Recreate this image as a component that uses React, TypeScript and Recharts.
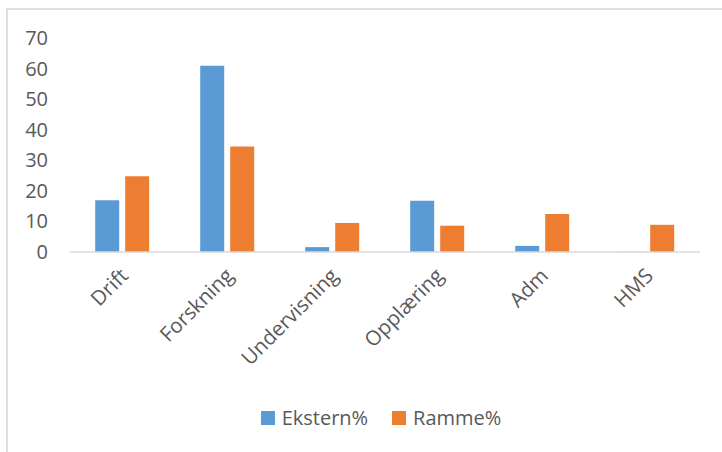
import React from 'react';
import { BarChart, Bar, XAxis, YAxis } from 'recharts';

const categories = ['Drift', 'Forskning', 'Undervisning', 'Opplæring', 'Adm', 'HMS'];
const ekstern = [16.9, 60.9, 1.6, 16.8, 2.0, 0.1];
const ramme = [24.8, 34.5, 9.5, 8.6, 12.4, 8.9];
const yTicks = [0, 10, 20, 30, 40, 50, 60, 70];
const seriesNames = ['Ekstern%', 'Ramme%'];
const seriesColors = ['#5B9BD5', '#ED7D31'];

const data = categories.map((c, i) => ({ name: c, ekstern: ekstern[i], ramme: ramme[i] }));

const FONT = 'Open Sans, sans-serif';
const GREY = '#595959';

const YTick = (props: any) => {
  const { x, y, payload } = props;
  return (
    <text x={x} y={y} dy={7} textAnchor="end" fill={GREY} fontSize={20} fontFamily={FONT}>
      {payload.value}
    </text>
  );
};

const XTick = (props: any) => {
  const { x, y, payload } = props;
  return (
    <g transform={`translate(${x + 7},${y + 25})`}>
      <text x={0} y={0} textAnchor="end" fill={GREY} fontSize={20.5} fontFamily={FONT} transform="rotate(-45)">
        {payload.value}
      </text>
    </g>
  );
};

export default function App() {
  return (
    <div style={{ position: 'absolute', left: 0, top: 0, width: 722, height: 452, background: '#fff', overflow: 'hidden' }}>
      <div style={{ position: 'absolute', left: 6, top: 8, width: 720, height: 450, borderTop: '2px solid #dedede', borderLeft: '2px solid #dedede' }} />
      <div style={{ position: 'absolute', left: 0, top: 0 }}>
        <BarChart width={722} height={452} data={data} margin={{ top: 38, right: 22, bottom: 0, left: 0 }} barCategoryGap="24%" barGap={6}>
          <XAxis dataKey="name" height={200} tickLine={false} tickSize={0} tickMargin={0} axisLine={{ stroke: '#d9d9d9', strokeWidth: 1.5 }} tick={<XTick />} interval={0} />
          <YAxis domain={[0, 70]} ticks={yTicks} width={70} axisLine={false} tickLine={false} tickSize={0} tickMargin={22} tick={<YTick />} />
          <Bar dataKey="ekstern" name={seriesNames[0]} fill={seriesColors[0]} isAnimationActive={false} />
          <Bar dataKey="ramme" name={seriesNames[1]} fill={seriesColors[1]} isAnimationActive={false} />
        </BarChart>
      </div>
      <div style={{ position: 'absolute', top: 404, left: 20, width: 722, display: 'flex', justifyContent: 'center', fontFamily: FONT, fontSize: 20, color: GREY, lineHeight: '28px' }}>
        {seriesNames.map((n, i) => (
          <div key={n} style={{ display: 'flex', alignItems: 'center', marginRight: i === 0 ? 24 : 0 }}>
            <span style={{ display: 'inline-block', width: 14, height: 14, background: seriesColors[i], marginRight: 7 }} />
            {n}
          </div>
        ))}
      </div>
    </div>
  );
}
